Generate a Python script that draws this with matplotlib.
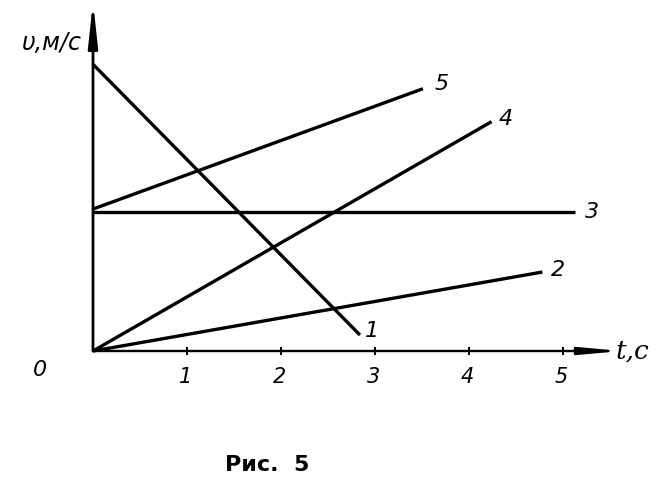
import matplotlib
matplotlib.use("Agg")
import matplotlib.pyplot as plt

# data (t in s, v in m/s)
line_ids = ["1", "2", "3", "4", "5"]
t_start = [0.0, 0.0, 0.0, 0.0, 0.0]
t_end = [2.84, 4.78, 5.13, 4.24, 3.51]
v_start = [3.05, 0.0, 1.48, 0.0, 1.51]
v_end = [0.17, 0.84, 1.48, 2.44, 2.79]
x_ticks = [1, 2, 3, 4, 5]
x_tick_labels = ["1", "2", "3", "4", "5"]

W, H = 663, 490
ox, oy = 93, 351          # origin pixel
scale = 94.0              # px per unit
fig = plt.figure(figsize=(W / 100, H / 100), dpi=100)
xmax_px, ytop_px = 610, 10
ax = fig.add_axes([ox / W, (H - oy) / H, (xmax_px - ox) / W, (oy - ytop_px) / H])
ax.set_xlim(0, (xmax_px - ox) / scale)
ax.set_ylim(0, (oy - ytop_px) / scale)
for s in ax.spines.values():
    s.set_visible(False)
ax.set_xticks([])
ax.set_yticks([])
ax.patch.set_alpha(0)

xm = (xmax_px - ox) / scale
ym = (oy - ytop_px) / scale
# axes with arrows
ax.annotate("", xy=(xm + 0.12, 0), xytext=(0, 0),
            arrowprops=dict(arrowstyle="-|>,head_length=2.4,head_width=0.22", lw=1.7, color="black",
                            shrinkA=0, shrinkB=0), annotation_clip=False)
ax.annotate("", xy=(0, ym + 0.09), xytext=(0, 0),
            arrowprops=dict(arrowstyle="-|>,head_length=2.6,head_width=0.28", lw=2.0, color="black",
                            shrinkA=0, shrinkB=0), annotation_clip=False)

# tick marks
for xt, lab in zip(x_ticks, x_tick_labels):
    ax.plot([xt, xt], [-0.03, 0.03], color="black", lw=1.4, clip_on=False)
    ax.text(xt - 0.02, -0.17, lab, ha="center", va="top", fontsize=15, style="italic",
            family="DejaVu Sans", fontweight="light")

ax.text(-0.56, -0.1, "0", ha="center", va="top", fontsize=16, style="italic", family="DejaVu Sans")

# lines
label_offsets = {"1": (0.13, 0.04), "2": (0.17, 0.02), "3": (0.18, 0.0),
                 "4": (0.15, 0.03), "5": (0.2, 0.05)}
for lid, t0, t1, v0, v1 in zip(line_ids, t_start, t_end, v_start, v_end):
    ax.plot([t0, t1], [v0, v1], color="black", lw=2.4, solid_capstyle="butt", clip_on=False)
    dx, dy = label_offsets[lid]
    ax.text(t1 + dx, v1 + dy, lid, ha="center", va="center", fontsize=16, style="italic",
            family="DejaVu Sans")

# axis labels
fig.text(51 / W, 1 - 43 / H, "υ,м/с", ha="center", va="center", fontsize=17, style="italic",
         family="DejaVu Sans")
fig.text(632 / W, 1 - 351 / H, "t,c", ha="center", va="center", fontsize=19, style="italic",
         family="DejaVu Serif")
fig.text(267 / W, 1 - 465 / H, "Рис.  5", ha="center", va="center", fontsize=16, fontweight="bold",
         family="DejaVu Sans")

fig.savefig("out.png", dpi=100, facecolor="white")
